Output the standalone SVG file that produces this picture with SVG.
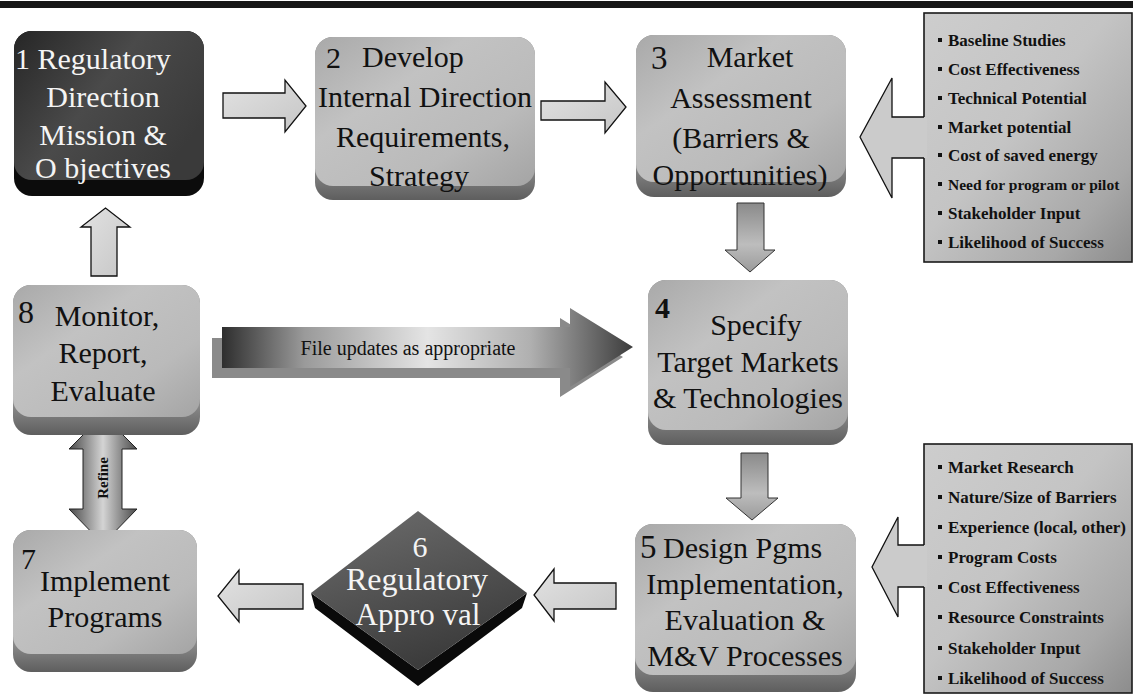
<svg xmlns="http://www.w3.org/2000/svg" width="1133" height="694" viewBox="0 0 1133 694">
<defs>
<style>
.t{font-family:"Liberation Serif","Times New Roman",serif;font-size:30px;fill:#111}
.tw{font-family:"Liberation Serif","Times New Roman",serif;font-size:30px;fill:#f4f4f4}
.ib{font-family:"Liberation Serif","Times New Roman",serif;font-size:17px;font-weight:bold;fill:#111}
.la{fill:url(#arrowLight);stroke:#111;stroke-width:1.3;stroke-linejoin:miter}
.da{fill:url(#arrowDown);stroke:#333;stroke-width:1}
.base{fill:url(#baseG)}
.face{fill:url(#faceG)}
.info{fill:url(#infoG);stroke:#1a1a1a;stroke-width:1.6}
.bul{fill:#111}
</style>
<linearGradient id="faceG" x1="0" y1="0" x2="1" y2="1">
<stop offset="0" stop-color="#a9a9a9"/>
<stop offset="0.35" stop-color="#c2c2c2"/>
<stop offset="0.7" stop-color="#bababa"/>
<stop offset="1" stop-color="#a4a4a4"/>
</linearGradient>
<linearGradient id="baseG" x1="0" y1="0" x2="0" y2="1">
<stop offset="0.8" stop-color="#8a8a8a"/>
<stop offset="1" stop-color="#5e5e5e"/>
</linearGradient>
<linearGradient id="darkFace" x1="0" y1="0" x2="1" y2="0.6">
<stop offset="0" stop-color="#262626"/>
<stop offset="0.5" stop-color="#4a4a4a"/>
<stop offset="1" stop-color="#3a3a3a"/>
</linearGradient>
<linearGradient id="infoG" x1="0" y1="0" x2="1" y2="1">
<stop offset="0" stop-color="#cdcdcd"/>
<stop offset="0.45" stop-color="#c4c4c4"/>
<stop offset="0.8" stop-color="#a8a8a8"/>
<stop offset="1" stop-color="#8c8c8c"/>
</linearGradient>
<linearGradient id="arrowLight" x1="0" y1="0" x2="1" y2="1">
<stop offset="0" stop-color="#e2e2e2"/>
<stop offset="1" stop-color="#c6c6c6"/>
</linearGradient>
<linearGradient id="arrowDown" x1="0" y1="0" x2="0" y2="1">
<stop offset="0" stop-color="#8a8a8a"/>
<stop offset="0.6" stop-color="#bdbdbd"/>
<stop offset="1" stop-color="#9a9a9a"/>
</linearGradient>
<linearGradient id="refineG" x1="0" y1="0" x2="1" y2="0">
<stop offset="0" stop-color="#4a4a4a"/>
<stop offset="0.5" stop-color="#d4d4d4"/>
<stop offset="1" stop-color="#4a4a4a"/>
</linearGradient>
<linearGradient id="fileG" x1="222" y1="0" x2="633" y2="0" gradientUnits="userSpaceOnUse">
<stop offset="0" stop-color="#2e2e2e"/>
<stop offset="0.2" stop-color="#9a9a9a"/>
<stop offset="0.5" stop-color="#e4e4e4"/>
<stop offset="0.75" stop-color="#b0b0b0"/>
<stop offset="1" stop-color="#3c3c3c"/>
</linearGradient>
<linearGradient id="diamondG" x1="0" y1="0" x2="0.4" y2="1">
<stop offset="0" stop-color="#6e6e6e"/>
<stop offset="0.6" stop-color="#505050"/>
<stop offset="1" stop-color="#3c3c3c"/>
</linearGradient>
</defs>

<rect width="1133" height="694" fill="#ffffff"/>
<rect x="0" y="1" width="1133" height="7" fill="#161616"/>

<g id="connectors">
<polygon class="la" points="223,93 285,93 285,80 306,106 285,132 285,118 223,118"/>
<polygon class="la" points="541,101 605,101 605,82 626,107 605,133 605,120 541,120"/>
<polygon class="da" points="737,203 764,203 764,250 775,250 750,272 725,250 737,250"/>
<polygon class="da" points="741,453 768,453 768,498 778,498 752,520 726,498 741,498"/>
<polygon class="la" points="616,583 554,583 554,569 534,595 554,621 554,609 616,609"/>
<polygon class="la" points="303,584 239,584 239,570 218,596 239,622 239,609 303,609"/>
<polygon class="la" points="91,276 91,227 81,227 105.5,208 130,227 117,227 117,276"/>
<g id="refine">
<polygon fill="url(#refineG)" stroke="#222" stroke-width="1" points="103,415 137,449 122,449 122,509 137,509 103,544 69,509 83,509 83,449 69,449"/>
<text x="0" y="0" transform="translate(108,478) rotate(-90)" text-anchor="middle" style="font-family:'Liberation Serif','Times New Roman',serif;font-size:15px;font-weight:bold;fill:#111">Refine</text>
</g>
<g id="file-updates">
<polygon fill="#8a8a8a" points="212,338 560,338 560,318 623,357 560,397 560,378 212,378"/>
<polygon fill="url(#fileG)" points="222,327 570,327 570,308 633,347 570,387 570,368 222,368"/>
<text x="408" y="355" text-anchor="middle" style="font-family:'Liberation Serif','Times New Roman',serif;font-size:20px;fill:#111">File updates as appropriate</text>
</g>
</g>

<g id="node-1">
<rect x="14" y="31" width="190" height="165" rx="18" fill="#0c0c0c"/>
<rect x="14" y="31" width="190" height="149" rx="18" fill="url(#darkFace)"/>
<text class="tw" x="15" y="69">1 Regulatory</text>
<text class="tw" x="103" y="107" text-anchor="middle">Direction</text>
<text class="tw" x="103" y="145" text-anchor="middle">Mission &amp;</text>
<text class="tw" x="103" y="178" text-anchor="middle">O bjectives</text>
</g>

<g id="node-2">
<rect class="base" x="315" y="37" width="220" height="163" rx="18"/>
<rect class="face" x="315" y="37" width="220" height="149" rx="18"/>
<text class="t" x="326" y="68">2</text>
<text class="t" x="362" y="67">Develop</text>
<text class="t" x="425" y="107" text-anchor="middle">Internal Direction</text>
<text class="t" x="423" y="147" text-anchor="middle">Requirements,</text>
<text class="t" x="419" y="186" text-anchor="middle">Strategy</text>
</g>

<g id="node-3">
<rect class="base" x="636" y="35" width="210" height="162" rx="18"/>
<rect class="face" x="636" y="35" width="210" height="147" rx="18"/>
<text class="t" x="651" y="69" style="font-size:33px">3</text>
<text class="t" x="750" y="67" text-anchor="middle">Market</text>
<text class="t" x="741" y="108" text-anchor="middle">Assessment</text>
<text class="t" x="741" y="148" text-anchor="middle">(Barriers &amp;</text>
<text class="t" x="740" y="185" text-anchor="middle">Opportunities)</text>
</g>

<g id="node-4">
<rect class="base" x="648" y="280" width="200" height="165" rx="18"/>
<rect class="face" x="648" y="280" width="200" height="150" rx="18"/>
<text class="t" x="655" y="318" style="font-weight:bold">4</text>
<text class="t" x="756" y="335" text-anchor="middle">Specify</text>
<text class="t" x="748" y="372" text-anchor="middle">Target Markets</text>
<text class="t" x="748" y="408" text-anchor="middle">&amp; Technologies</text>
</g>

<g id="node-5">
<rect class="base" x="635" y="524" width="221" height="168" rx="18"/>
<rect class="face" x="635" y="524" width="221" height="151" rx="18"/>
<text class="t" x="640" y="558" style="font-size:33px">5</text>
<text class="t" x="663" y="558">Design Pgms</text>
<text class="t" x="745" y="594" text-anchor="middle">Implementation,</text>
<text class="t" x="745" y="630" text-anchor="middle">Evaluation &amp;</text>
<text class="t" x="745" y="666" text-anchor="middle">M&amp;V Processes</text>
</g>

<g id="node-6">
<polygon fill="#0a0a0a" points="311,593 418,670 527,593 522,608 418,686 315,608"/>
<polygon fill="url(#diamondG)" points="418,511 527,593 418,670 311,593"/>
<text class="tw" x="420" y="557" text-anchor="middle">6</text>
<text class="tw" x="417" y="590" text-anchor="middle" style="font-size:32px">Regulatory</text>
<text class="tw" x="418" y="625" text-anchor="middle" style="font-size:31px">Appro val</text>
</g>

<g id="node-7">
<rect class="base" x="13" y="530" width="184" height="142" rx="18"/>
<rect class="face" x="13" y="530" width="184" height="124" rx="18"/>
<text class="t" x="21" y="569">7</text>
<text class="t" x="105" y="591" text-anchor="middle">Implement</text>
<text class="t" x="105" y="627" text-anchor="middle">Programs</text>
</g>

<g id="node-8">
<rect class="base" x="13" y="285" width="187" height="150" rx="18"/>
<rect class="face" x="13" y="285" width="187" height="132" rx="18"/>
<text class="t" x="18" y="323" style="font-size:32px">8</text>
<text class="t" x="107" y="326" text-anchor="middle">Monitor,</text>
<text class="t" x="103" y="363" text-anchor="middle">Report,</text>
<text class="t" x="103" y="401" text-anchor="middle">Evaluate</text>
</g>

<g id="info-1">
<rect class="info" x="924" y="13" width="208" height="249"/>
<rect class="bul" x="938" y="38" width="4" height="4"/>
<rect class="bul" x="938" y="67" width="4" height="4"/>
<rect class="bul" x="938" y="96" width="4" height="4"/>
<rect class="bul" x="938" y="125" width="4" height="4"/>
<rect class="bul" x="938" y="153" width="4" height="4"/>
<rect class="bul" x="938" y="182" width="4" height="4"/>
<rect class="bul" x="938" y="211" width="4" height="4"/>
<rect class="bul" x="938" y="240" width="4" height="4"/>
<text class="ib" x="948" y="46">Baseline Studies</text>
<text class="ib" x="948" y="75">Cost Effectiveness</text>
<text class="ib" x="948" y="104">Technical Potential</text>
<text class="ib" x="948" y="133">Market potential</text>
<text class="ib" x="948" y="161">Cost of saved energy</text>
<text class="ib" x="948" y="190" style="font-size:15.5px">Need for program or pilot</text>
<text class="ib" x="948" y="219">Stakeholder Input</text>
<text class="ib" x="948" y="248">Likelihood of Success</text>
</g>

<g id="info-2">
<rect class="info" x="924" y="444" width="208" height="249"/>
<rect class="bul" x="938" y="465" width="4" height="4"/>
<rect class="bul" x="938" y="495" width="4" height="4"/>
<rect class="bul" x="938" y="525" width="4" height="4"/>
<rect class="bul" x="938" y="555" width="4" height="4"/>
<rect class="bul" x="938" y="585" width="4" height="4"/>
<rect class="bul" x="938" y="615" width="4" height="4"/>
<rect class="bul" x="938" y="646" width="4" height="4"/>
<rect class="bul" x="938" y="676" width="4" height="4"/>
<text class="ib" x="948" y="473">Market Research</text>
<text class="ib" x="948" y="503">Nature/Size of Barriers</text>
<text class="ib" x="948" y="533">Experience (local, other)</text>
<text class="ib" x="948" y="563">Program Costs</text>
<text class="ib" x="948" y="593">Cost Effectiveness</text>
<text class="ib" x="948" y="623">Resource Constraints</text>
<text class="ib" x="948" y="654">Stakeholder Input</text>
<text class="ib" x="948" y="684">Likelihood of Success</text>
</g>

<g id="input-arrows">
<polygon fill="#cbcbcb" points="860,137 892,78 892,117 927,117 927,158 892,158 892,198"/>
<polyline fill="none" stroke="#111" stroke-width="1.3" points="924,117 892,117 892,78 860,137 892,198 892,158 924,158"/>
<polygon fill="#cbcbcb" points="872,567 898,517 898,545 927,545 927,587 898,587 898,617"/>
<polyline fill="none" stroke="#111" stroke-width="1.3" points="924,545 898,545 898,517 872,567 898,617 898,587 924,587"/>
</g>
</svg>
